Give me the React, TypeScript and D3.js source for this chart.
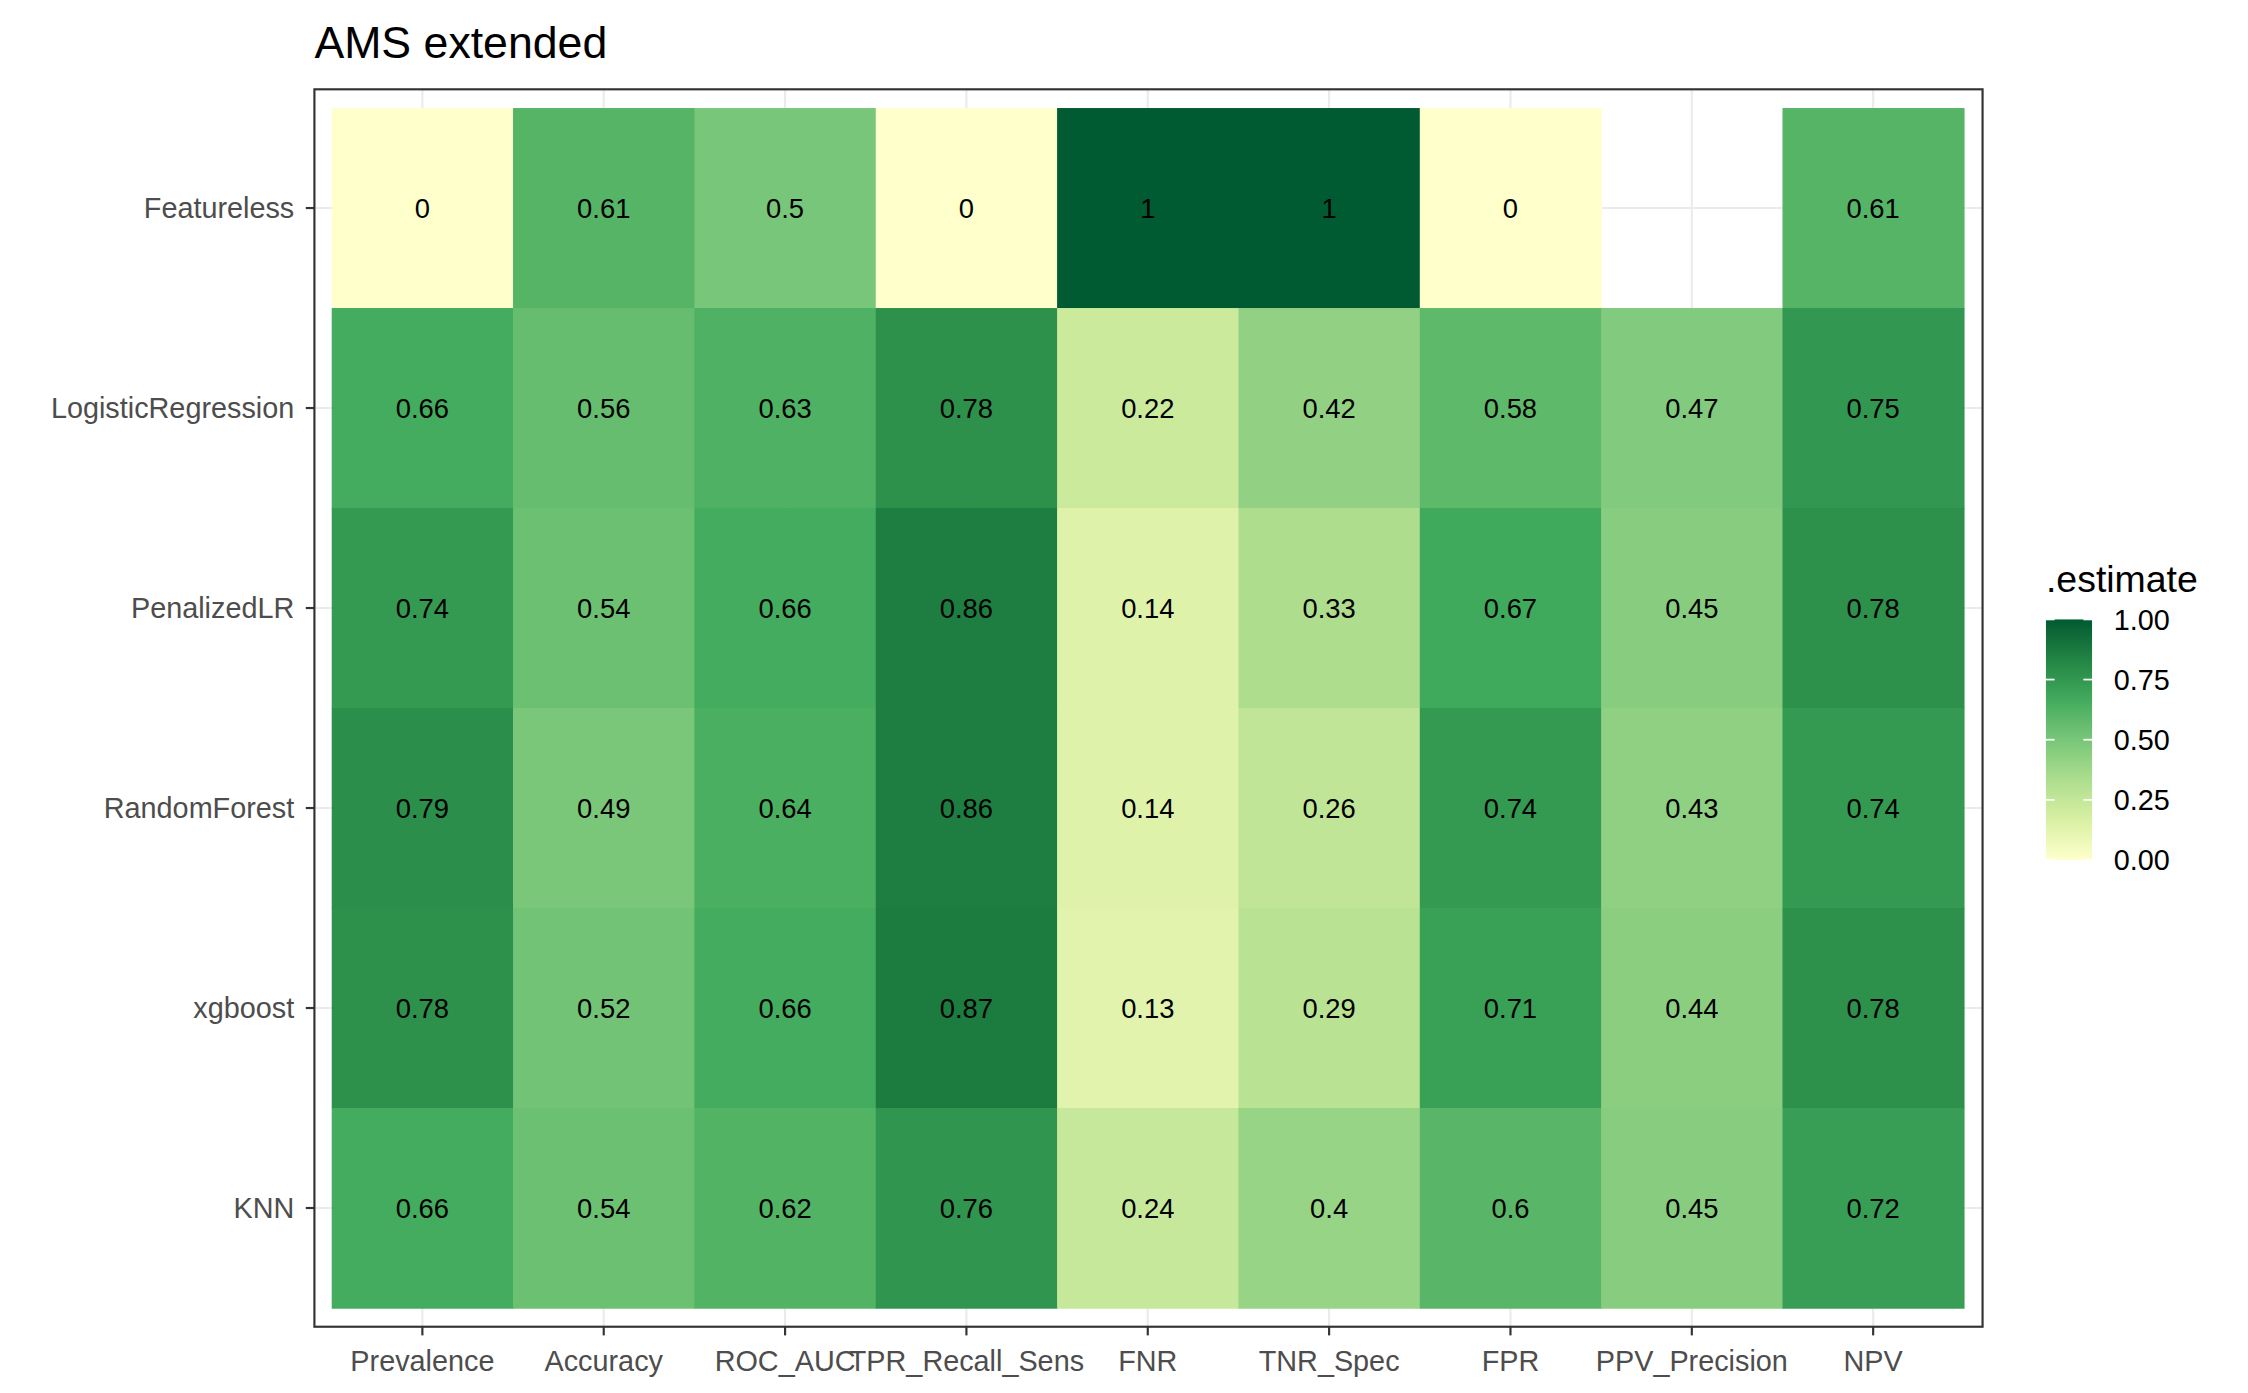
import * as d3 from "d3";

const metrics = ["Prevalence", "Accuracy", "ROC_AUC", "TPR_Recall_Sens", "FNR", "TNR_Spec", "FPR", "PPV_Precision", "NPV"];
const models = ["Featureless", "LogisticRegression", "PenalizedLR", "RandomForest", "xgboost", "KNN"];
const featureless = [0, 0.61, 0.5, 0, 1, 1, 0, null, 0.61];
const logisticRegression = [0.66, 0.56, 0.63, 0.78, 0.22, 0.42, 0.58, 0.47, 0.75];
const penalizedLR = [0.74, 0.54, 0.66, 0.86, 0.14, 0.33, 0.67, 0.45, 0.78];
const randomForest = [0.79, 0.49, 0.64, 0.86, 0.14, 0.26, 0.74, 0.43, 0.74];
const xgboost = [0.78, 0.52, 0.66, 0.87, 0.13, 0.29, 0.71, 0.44, 0.78];
const knn = [0.66, 0.54, 0.62, 0.76, 0.24, 0.4, 0.6, 0.45, 0.72];
const legendTicks = [0, 0.25, 0.5, 0.75, 1];

const rows = [featureless, logisticRegression, penalizedLR, randomForest, xgboost, knn];
const palette = ["#ffffcc", "#d9f0a3", "#addd8e", "#78c679", "#41ab5d", "#238443", "#005a32"];
const color = d3.piecewise(d3.interpolateLab, palette);

export default function App() {
  const W = 1560, H = 967;
  const pl = 218, pr = 1376, pt = 62, pb = 921;
  const x = d3.scaleBand().domain(metrics).range([230, 1363]);
  const y = d3.scaleBand().domain(models).range([75, 908]);
  const ly = d3.scaleLinear().domain([0, 1]).range([597, 430]);
  const font = "Arial, 'Liberation Sans', sans-serif";
  const cells = rows.flatMap((r, i) => r.map((v, j) => ({ m: metrics[j], mod: models[i], v })));
  return (
    <svg width={2248} height={1393} viewBox={`0 0 ${W} ${H}`} style={{ position: "absolute", left: 0, top: 0 }} fontFamily={font}>
      <rect width={W} height={H} fill="white" />
      <text x={218} y={40} fontSize={31}>AMS extended</text>
      {metrics.map(m => (
        <line key={m} x1={x(m)! + x.bandwidth() / 2} x2={x(m)! + x.bandwidth() / 2} y1={pt} y2={pb} stroke="#ebebeb" strokeWidth={1.5} />
      ))}
      {models.map(m => (
        <line key={m} x1={pl} x2={pr} y1={y(m)! + y.bandwidth() / 2} y2={y(m)! + y.bandwidth() / 2} stroke="#ebebeb" strokeWidth={1.5} />
      ))}
      {cells.filter(c => c.v !== null).map(c => (
        <g key={c.m + c.mod}>
          <rect x={x(c.m)} y={y(c.mod)} width={x.bandwidth() + 0.5} height={y.bandwidth() + 0.5} fill={color(c.v as number)} />
          <text x={x(c.m)! + x.bandwidth() / 2} y={y(c.mod)! + y.bandwidth() / 2 + 7} textAnchor="middle" fontSize={19}>{String(c.v)}</text>
        </g>
      ))}
      <rect x={pl} y={pt} width={pr - pl} height={pb - pt} fill="none" stroke="#333" strokeWidth={1.5} />
      {metrics.map(m => {
        const cx = x(m)! + x.bandwidth() / 2;
        return (
          <g key={m}>
            <line x1={cx} x2={cx} y1={pb} y2={pb + 6} stroke="#333" strokeWidth={1.5} />
            <text x={cx} y={pb + 31} textAnchor="middle" fontSize={20} fill="#4d4d4d">{m}</text>
          </g>
        );
      })}
      {models.map(m => {
        const cy = y(m)! + y.bandwidth() / 2;
        return (
          <g key={m}>
            <line x1={pl - 6} x2={pl} y1={cy} y2={cy} stroke="#333" strokeWidth={1.5} />
            <text x={pl - 14} y={cy + 7} textAnchor="end" fontSize={20} fill="#4d4d4d">{m}</text>
          </g>
        );
      })}
      <defs>
        <linearGradient id="lg" x1="0" x2="0" y1="1" y2="0">
          {d3.range(0, 1.001, 0.05).map(t => <stop key={t} offset={t} stopColor={color(t)} />)}
        </linearGradient>
      </defs>
      <text x={1420} y={411} fontSize={26}>.estimate</text>
      <rect x={1420} y={430} width={32} height={167} fill="url(#lg)" />
      {legendTicks.map(t => (
        <g key={t}>
          <line x1={1420} x2={1426} y1={ly(t)} y2={ly(t)} stroke="white" strokeWidth={1.2} />
          <line x1={1446} x2={1452} y1={ly(t)} y2={ly(t)} stroke="white" strokeWidth={1.2} />
          <text x={1467} y={ly(t) + 7} fontSize={20}>{t.toFixed(2)}</text>
        </g>
      ))}
    </svg>
  );
}
